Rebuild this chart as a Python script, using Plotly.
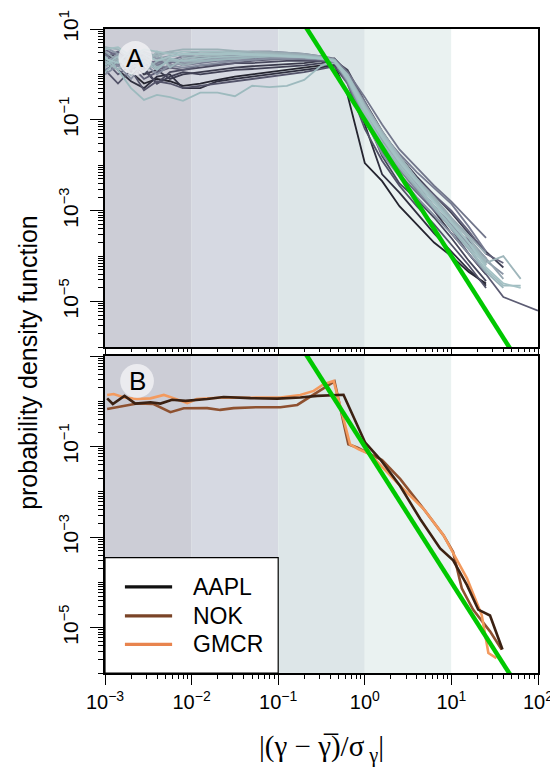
import plotly.graph_objects as go

# ---------------- data ----------------
x_tick_exps = [-3, -2, -1, 0, 1, 2]
y_label_exps = [1, -1, -3, -5]
band_edges = [1e-3, 1e-2, 1e-1, 1, 10, 100]
band_colors = ["#cccdd6", "#d6d9e2", "#dde6e8", "#eaf2f1", "#ffffff"]

# Panel A: log10(x) grid and log10(pdf) of each curve
a_grid_log = [-3.0, -2.85, -2.7, -2.55, -2.4, -2.25, -2.1, -1.9, -1.7, -1.5, -1.3, -1.1,
              -0.9, -0.7, -0.5, -0.35, -0.2, 0.0, 0.2, 0.4, 0.6, 0.8, 1.0, 1.2, 1.4,
              1.6, 1.8, 2.0]
a_lines_log = [
    [0.45,0.3,0.05,-0.2,-0.1,-0.15,-0.25,-0.2,-0.12,-0.05,0.0,0.05,0.1,0.15,0.2,0.2,-0.45,-1.95,-2.35,-2.9,-3.3,-3.7,-4.0,-4.35,-4.6],
    [0.35,0.1,-0.15,-0.3,-0.05,0.0,-0.3,-0.3,-0.15,-0.1,-0.05,0.0,0.05,0.1,0.15,0.22,-0.05,-1.1,-2.2,-2.6,-3.05,-3.5,-3.9,-4.3,-4.65],
    [0.5,0.2,0.3,0.0,0.1,-0.1,0.0,0.05,0.1,0.15,0.18,0.2,0.22,0.25,0.3,0.35,0.05,-0.7,-1.5,-2.0,-2.5,-3.0,-3.5,-3.95,-4.4],
    [0.3,0.5,0.2,0.1,-0.2,-0.05,0.05,0.0,0.05,0.1,0.12,0.15,0.18,0.2,0.25,0.3,0.1,-0.6,-1.25,-1.8,-2.25,-2.65,-3.05,-3.5,-3.9,-4.25],
    [0.2,0.35,0.0,0.15,-0.2,0.05,0.1,0.15,0.2,0.25,0.25,0.28,0.3,0.3,0.3,0.28,-0.1,-0.9,-1.8,-2.4,-2.75,-3.15,-3.6,-4.1,-4.55],
    [0.1,-0.2,0.1,-0.35,-0.15,-0.2,-0.3,-0.25,-0.2,-0.15,-0.1,-0.05,0.0,0.05,0.12,0.18,-0.2,-1.2,-1.9,-2.45,-2.9,-3.3,-3.75,-4.2,-4.7],
    [0.3,0.0,0.2,-0.1,0.05,0.15,0.1,0.2,0.22,0.25,0.3,0.32,0.35,0.33,0.3,0.25,-0.05,-0.85,-1.6,-2.05,-2.45,-2.9,-3.4,-3.95,-4.4,-4.9,-5.05,-5.2],
    [0.4,0.5,0.25,0.3,0.1,0.2,0.25,0.3,0.35,0.38,0.4,0.42,0.42,0.4,0.38,0.3,0.0,-0.75,-1.35,-1.9,-2.3,-2.65,-3.0,-3.45,-3.95,-4.15],
    [0.55,0.4,0.45,0.2,0.3,0.25,0.35,0.4,0.45,0.48,0.5,0.5,0.48,0.45,0.4,0.3,-0.2,-1.0,-1.7,-2.2,-2.6,-3.0,-3.35,-3.65,-4.05],
    [0.45,0.2,0.35,0.4,0.2,0.3,0.4,0.38,0.35,0.35,0.35,0.38,0.4,0.4,0.4,0.35,0.05,-0.5,-1.1,-1.65,-2.05,-2.45,-2.8,-3.2,-3.6],
    [0.1,0.25,0.4,0.1,0.25,0.3,0.2,0.25,0.3,0.3,0.32,0.35,0.35,0.35,0.33,0.3,0.0,-0.6,-1.3,-1.75,-2.15,-2.5,-2.85,-3.35,-3.9],
    [0.35,0.2,0.1,0.35,0.2,0.15,0.3,0.35,0.4,0.42,0.45,0.45,0.42,0.4,0.35,0.3,-0.15,-0.95,-1.55,-2.1,-2.55,-2.95,-3.35,-3.75,-4.2],
    [0.0,0.2,-0.1,0.25,0.0,0.2,0.15,0.2,0.25,0.3,0.32,0.35,0.35,0.35,0.33,0.28,-0.15,-1.0,-1.75,-2.25,-2.7,-3.1,-3.5,-3.95,-4.35],
    [0.6,0.45,0.3,0.45,0.35,0.4,0.45,0.5,0.5,0.5,0.48,0.45,0.45,0.42,0.38,0.3,-0.1,-0.8,-1.45,-2.0,-2.45,-2.9,-3.3,-3.75,-4.1,-4.4],
    [0.25,0.45,0.15,0.3,0.4,0.2,0.25,0.3,0.35,0.38,0.4,0.4,0.4,0.38,0.36,0.32,-0.05,-0.75,-1.35,-1.9,-2.4,-2.8,-3.25,-3.7,-4.15],
    [0.5,0.3,0.5,0.35,0.45,0.5,0.4,0.45,0.48,0.5,0.5,0.5,0.48,0.45,0.4,0.32,-0.05,-0.7,-1.3,-1.85,-2.35,-2.75,-3.2,-3.6,-4.05,-4.5],
    [0.15,0.35,0.25,0.05,0.3,0.35,0.2,0.28,0.32,0.35,0.38,0.4,0.4,0.38,0.35,0.3,0.0,-0.65,-1.25,-1.8,-2.3,-2.7,-3.15,-3.55,-3.95],
    [0.05,0.3,0.2,0.4,0.15,0.3,0.3,0.3,0.32,0.35,0.38,0.4,0.4,0.38,0.36,0.3,-0.12,-0.9,-1.55,-2.05,-2.5,-2.95,-3.4,-3.85,-4.35,-4.7],
    [0.6,0.55,0.3,0.5,0.4,0.5,0.55,0.55,0.55,0.52,0.5,0.48,0.45,0.42,0.38,0.32,-0.05,-0.8,-1.4,-1.95,-2.45,-2.9,-3.35,-3.8,-4.15],
    [0.4,0.1,-0.3,-0.56,-0.45,-0.5,-0.58,-0.4,-0.4,-0.48,-0.25,-0.28,-0.25,-0.12,0.2,0.25,-0.05,-0.75,-1.35,-1.85,-2.3,-2.8,-3.25,-3.7,-4.1],
    [0.3,0.1,0.45,0.2,0.5,0.15,0.35,0.4,0.42,0.45,0.45,0.45,0.42,0.4,0.37,0.3,0.0,-0.7,-1.3,-1.8,-2.3,-2.75,-3.2,-3.6,-4.15,-4.0,-4.5],
    [0.2,0.4,0.0,0.3,0.1,0.35,0.3,0.35,0.38,0.4,0.42,0.42,0.42,0.4,0.36,0.3,-0.1,-0.85,-1.5,-2.0,-2.45,-2.9,-3.35,-3.8,-4.3,-4.65,-4.65],
    [0.55,0.6,0.4,0.55,0.5,0.45,0.5,0.5,0.5,0.48,0.45,0.42,0.4,0.38,0.35,0.3,-0.02,-0.72,-1.32,-1.88,-2.35,-2.8,-3.25,-3.7,-4.2],
    [0.35,0.25,0.55,0.45,0.3,0.4,0.45,0.45,0.45,0.45,0.43,0.42,0.4,0.38,0.35,0.3,-0.08,-0.78,-1.38,-1.92,-2.38,-2.82,-3.25,-3.7,-4.25,-4.6,-4.7],
]
a_colors = ["#24242f", "#2f2f3f", "#3a3a4c", "#414155", "#48485d", "#535369",
            "#5c5c73", "#63637b", "#6b6b84", "#72768b", "#787c92", "#7f8598",
            "#868ea0", "#8c96a6", "#929eac", "#96a6b0", "#99acb4", "#9ab4ba",
            "#9cb1b7", "#9dbabe", "#9fb6bb", "#a0bcc0", "#a3bfc2", "#a5c2c5"]

# Panel B: three stocks (log10 x, log10 pdf)
b_names = ["AAPL", "NOK", "GMCR"]
b_colors = ["#3b2112", "#8e5130", "#f39a5e"]
b_legend_colors = ["#111111", "#7a4427", "#e8844e"]
aapl_lx = [-2.975,-2.91,-2.775,-2.65,-2.475,-2.36,-2.225,-2.07,-1.82,-1.63,-1.32,-1.01,-0.745,-0.55,-0.246,0.005,0.178,0.408,0.64,0.87,1.02,1.18,1.31,1.446,1.59]
aapl_ly = [0.064,-0.06,0.12,-0.05,-0.02,-0.05,0.035,0.01,0.05,0.095,0.07,0.06,0.085,0.12,0.145,-0.915,-1.28,-1.87,-2.6,-3.25,-3.51,-4.06,-4.6,-4.73,-5.48]
nok_lx = [-2.975,-2.82,-2.63,-2.44,-2.245,-2.09,-1.82,-1.67,-1.515,-1.245,-0.975,-0.78,-0.59,-0.35,-0.19,-0.09,0.2,0.41,0.68,0.91,1.02,1.12,1.25,1.446,1.58]
nok_ly = [-0.17,-0.11,-0.05,-0.06,-0.24,-0.155,-0.15,-0.19,-0.15,-0.13,-0.13,-0.08,0.145,0.44,-0.95,-1.02,-1.3,-1.72,-2.38,-2.96,-3.33,-4.13,-4.6,-5.08,-5.48]
gmcr_lx = [-2.975,-2.9,-2.78,-2.63,-2.475,-2.32,-2.2,-2.05,-1.94,-1.63,-1.32,-0.975,-0.745,-0.59,-0.475,-0.36,-0.17,-0.07,0.062,0.37,0.68,0.91,1.02,1.18,1.35,1.427,1.52]
gmcr_ly = [0.14,0.16,0.085,0.05,0.065,0.14,0.065,-0.04,0.05,0.085,0.08,0.085,0.14,0.23,0.38,0.45,-0.95,-1.06,-1.17,-1.79,-2.38,-2.96,-3.35,-3.91,-4.72,-5.56,-5.67]
b_series_lx = [aapl_lx, nok_lx, gmcr_lx]
b_series_ly = [aapl_ly, nok_ly, gmcr_ly]

# power-law fit line (endpoints)
fit_x = [0.1, 100]
fit_y = [100, 1e-7]
fit_color = "#00c800"

# ---------------- figure ----------------
FONT = "Liberation Sans, Arial, Helvetica, sans-serif"
fig = go.Figure()

for vals, col in zip(a_lines_log, a_colors):
    xs = [10 ** g for g, _ in zip(a_grid_log, vals)]
    ys = [10 ** v for v in vals]
    fig.add_trace(go.Scatter(x=xs, y=ys, mode="lines", line=dict(color=col, width=1.8),
                             xaxis="x", yaxis="y", showlegend=False, hoverinfo="skip"))
fig.add_trace(go.Scatter(x=fit_x, y=fit_y, mode="lines", line=dict(color=fit_color, width=4.5),
                         xaxis="x", yaxis="y", showlegend=False))

draw_order = [1, 2, 0]
for i in draw_order:
    fig.add_trace(go.Scatter(x=[10 ** v for v in b_series_lx[i]],
                             y=[10 ** v for v in b_series_ly[i]],
                             mode="lines", name=b_names[i],
                             line=dict(color=b_colors[i], width=2.6),
                             xaxis="x2", yaxis="y2", showlegend=False))
fig.add_trace(go.Scatter(x=fit_x, y=fit_y, mode="lines", line=dict(color=fit_color, width=4.5),
                         xaxis="x2", yaxis="y2", showlegend=False))


def sup(e):
    return "10<sup>" + str(e).replace("-", "\u2212") + "</sup>"


minor_x = [m * 10 ** e for e in range(-3, 2) for m in range(2, 10)]
minor_y = [m * 10 ** e for e in range(-6, 1) for m in range(2, 10)] + [10 ** e for e in (0, -2, -4, -6)]


def xcfg(labels, anchor):
    return dict(type="log", range=[-3, 2], showgrid=False, zeroline=False, anchor=anchor,
                automargin=False,
                showline=True, linecolor="black", linewidth=2, mirror=True,
                ticks="outside", ticklen=10 if labels else 6, tickwidth=1.3, tickcolor="black",
                tickvals=[10 ** e for e in x_tick_exps],
                ticktext=[sup(e) for e in x_tick_exps],
                showticklabels=labels,
                tickfont=dict(family=FONT, size=20, color="black"),
                minor=dict(ticks="outside", ticklen=4 if labels else 3, tickwidth=1,
                           tickcolor="black", tickvals=minor_x, showgrid=False))


def ycfg(domain, texts, anchor):
    return dict(type="log", range=[-6, 1], domain=domain, showgrid=False, zeroline=False,
                anchor=anchor, automargin=False,
                showline=True, linecolor="black", linewidth=2, mirror=True,
                ticks="outside", ticklen=13, tickwidth=1.3, tickcolor="black",
                tickvals=[10 ** e for e in y_label_exps], ticktext=texts,
                tickangle=-90, tickfont=dict(family=FONT, size=21, color="black"),
                ticklabelstandoff=4,
                minor=dict(ticks="outside", ticklen=5, tickwidth=1, tickcolor="black",
                           tickvals=minor_y, showgrid=False))


ya_text = [sup(e) for e in y_label_exps]
yb_text = [""] + [sup(e) for e in y_label_exps[1:]]

shapes = []
for ax, yax in (("x", "y"), ("x2", "y2")):
    for k, col in enumerate(band_colors):
        shapes.append(dict(type="rect", xref=ax, yref=yax + " domain",
                           x0=band_edges[k], x1=band_edges[k + 1], y0=0, y1=1,
                           fillcolor=col, line=dict(width=0), layer="below"))

# panel letter circles
shapes.append(dict(type="circle", xref="x domain", yref="y domain",
                   x0=0.031, x1=0.109, y0=0.855, y1=0.962,
                   fillcolor="rgba(240,240,243,0.85)", line=dict(width=0), layer="above"))
shapes.append(dict(type="circle", xref="x2 domain", yref="y2 domain",
                   x0=0.035, x1=0.113, y0=0.868, y1=0.975,
                   fillcolor="rgba(240,240,243,0.85)", line=dict(width=0), layer="above"))

# legend box in panel B
shapes.append(dict(type="rect", xref="x2 domain", yref="y2 domain",
                   x0=0.0, x1=0.40, y0=0.0, y1=0.364,
                   fillcolor="white", line=dict(color="black", width=1.2), layer="above"))
leg_rows = [0.272, 0.180, 0.0905]
annotations = []
for i, yy in enumerate(leg_rows):
    shapes.append(dict(type="line", xref="x2 domain", yref="y2 domain",
                       x0=0.046, x1=0.155, y0=yy, y1=yy,
                       line=dict(color=b_legend_colors[i], width=3.2), layer="above"))
    annotations.append(dict(xref="x2 domain", yref="y2 domain", x=0.198, y=yy,
                            text=b_names[i], showarrow=False, xanchor="left", yanchor="middle",
                            font=dict(family=FONT, size=23, color="black")))

annotations += [
    dict(xref="x domain", yref="y domain", x=0.070, y=0.9085, text="A", showarrow=False,
         font=dict(family=FONT, size=26, color="black"), xanchor="center", yanchor="middle"),
    dict(xref="x2 domain", yref="y2 domain", x=0.074, y=0.9215, text="B", showarrow=False,
         font=dict(family=FONT, size=26, color="black"), xanchor="center", yanchor="middle"),
    dict(xref="paper", yref="paper", x=-0.178, y=0.483, text="probability density function",
         showarrow=False, textangle=-90, xanchor="center", yanchor="middle",
         font=dict(family=FONT, size=25, color="black")),
    dict(xref="paper", yref="paper", x=0.5, y=-0.117,
         text="|(\u03b3 \u2212 \u03b3\u0305)/\u03c3<sub> \u03b3</sub>|",
         showarrow=False, xanchor="center", yanchor="middle",
         font=dict(family="Liberation Serif, DejaVu Serif, Times New Roman, serif", size=29,
                   color="black")),
]

# the page body has an 8 px margin, so the figure is sized to end at the window edge
fig.update_layout(
    width=550, height=763,
    margin=dict(l=97, r=20, t=21, b=98, autoexpand=False),
    paper_bgcolor="white", plot_bgcolor="white",
    xaxis=xcfg(False, "y"),
    yaxis=ycfg([0.5062, 1.0], ya_text, "x"),
    xaxis2=xcfg(True, "y2"),
    yaxis2=ycfg([0.0, 0.4922], yb_text, "x2"),
    shapes=shapes, annotations=annotations,
    showlegend=False,
)

fig.write_html("out.html")
